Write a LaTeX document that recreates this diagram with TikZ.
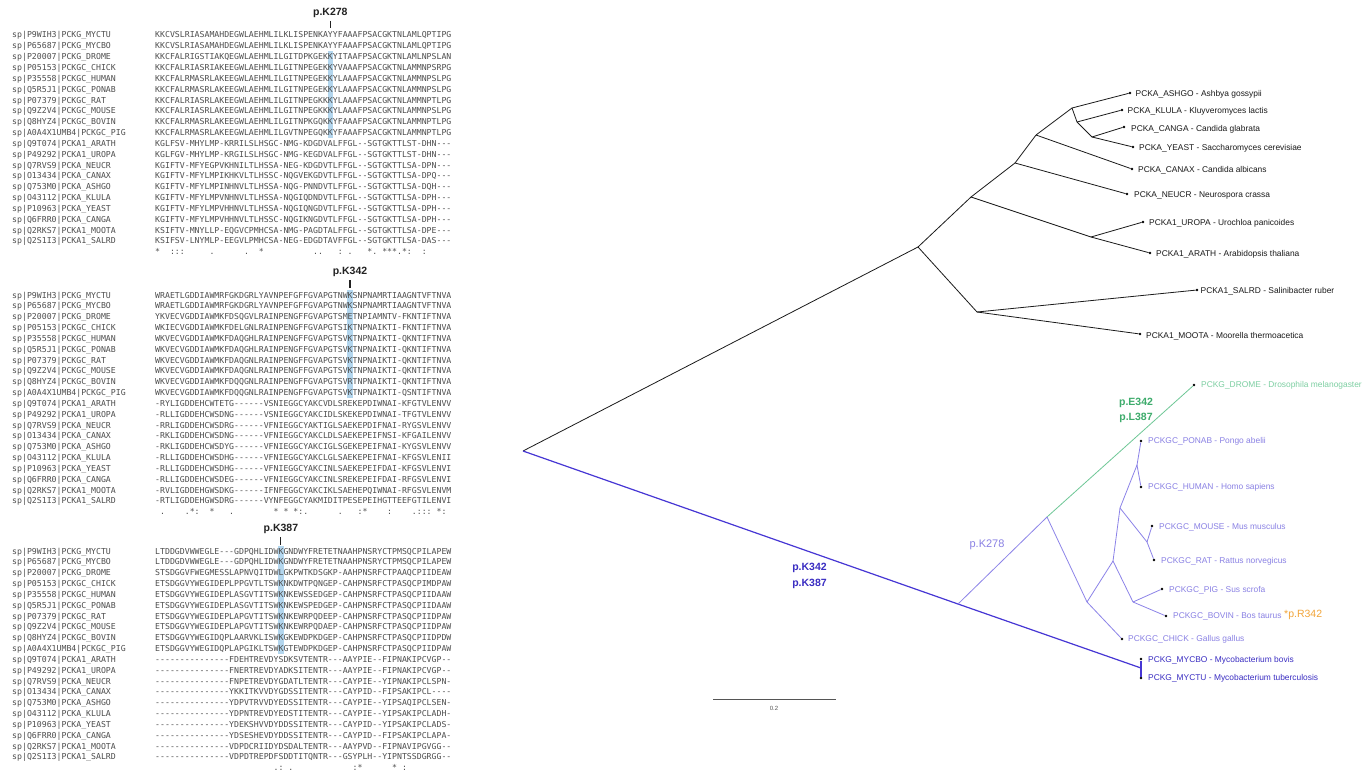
\documentclass[tikz,border=0pt]{standalone}
\usepackage{fontspec}
\setmainfont{Liberation Sans}
\setmonofont{DejaVu Sans Mono}
\definecolor{seqgray}{HTML}{4E4E4E}
\definecolor{hlblue}{HTML}{B3D6EE}
\definecolor{lblgray}{HTML}{222222}
\definecolor{treeblack}{HTML}{1A1A1A}
\definecolor{mycline}{HTML}{4636D4}
\definecolor{myctext}{HTML}{3A2DC2}
\definecolor{vertline}{HTML}{8C83E8}
\definecolor{verttext}{HTML}{8A81E4}
\definecolor{dromline}{HTML}{6EC796}
\definecolor{dromtext}{HTML}{7DCFA2}
\definecolor{dromlbl}{HTML}{3EAC6C}
\definecolor{orangelbl}{HTML}{F2A53A}
\definecolor{scalegray}{HTML}{555555}
\tikzset{
  seqtxt/.style={anchor=base west, inner sep=0pt, font=\ttfamily\fontsize{8.2}{9}\selectfont, text=seqgray},
  hlbox/.style={fill=hlblue},
  mutlbl/.style={inner sep=0pt, font=\bfseries\fontsize{10.5}{12}\selectfont, text=lblgray},
  tickline/.style={draw=lblgray, line width=1.1pt},
  tipdot/.style={circle, fill=black, inner sep=0pt, minimum size=2.6pt},
  tiplbl/.style={anchor=west, inner sep=0pt, font=\fontsize{8.4}{10}\selectfont},
  blackedge/.style={draw=treeblack, line width=0.8pt},
  mycedge/.style={draw=mycline, line width=1.2pt},
  vertedge/.style={draw=vertline, line width=0.8pt},
  dromedge/.style={draw=dromline, line width=0.8pt},
}
\begin{document}
\begin{tikzpicture}[x=1pt,y=-1pt]
\useasboundingbox[fill=white] (0,0) rectangle (1372,773);

% ---------------- alignment highlights ----------------
\fill[hlbox] (327.6,51.3) rectangle (333.0,138.1);
\fill[hlbox] (347.4,289.6) rectangle (352.7,398.0);
\fill[hlbox] (278.2,545.6) rectangle (283.5,654.0);

% ---------------- mutation labels above alignment ----------------
\node[mutlbl] (lk278) at (330.3,13) {p.K278};
\coordinate (tk278a) at (330.3,21);
\coordinate (tk278b) at (330.3,28.5);
\draw[tickline] (tk278a) -- (tk278b);
\node[mutlbl] (lk342) at (350.0,272) {p.K342};
\coordinate (tk342a) at (350.0,280);
\coordinate (tk342b) at (350.0,287.5);
\draw[tickline] (tk342a) -- (tk342b);
\node[mutlbl] (lk387) at (280.9,529) {p.K387};
\coordinate (tk387a) at (280.9,537);
\coordinate (tk387b) at (280.9,544.5);
\draw[tickline] (tk387a) -- (tk387b);

% ---------------- sequence identifiers ----------------
\foreach \b/\y in {1/35,2/295,3/551}{
  \foreach \i/\id in {1/sp|P9WIH3|PCKG\_MYCTU, 2/sp|P65687|PCKG\_MYCBO, 3/sp|P20007|PCKG\_DROME,
    4/sp|P05153|PCKGC\_CHICK, 5/sp|P35558|PCKGC\_HUMAN, 6/sp|Q5R5J1|PCKGC\_PONAB,
    7/sp|P07379|PCKGC\_RAT, 8/sp|Q9Z2V4|PCKGC\_MOUSE, 9/sp|Q8HYZ4|PCKGC\_BOVIN,
    10/sp|A0A4X1UMB4|PCKGC\_PIG, 11/sp|Q9T074|PCKA1\_ARATH, 12/sp|P49292|PCKA1\_UROPA,
    13/sp|Q7RVS9|PCKA\_NEUCR, 14/sp|O13434|PCKA\_CANAX, 15/sp|Q753M0|PCKA\_ASHGO,
    16/sp|O43112|PCKA\_KLULA, 17/sp|P10963|PCKA\_YEAST, 18/sp|Q6FRR0|PCKA\_CANGA,
    19/sp|Q2RKS7|PCKA1\_MOOTA, 20/sp|Q2S1I3|PCKA1\_SALRD}{
    \node[seqtxt] (id\b-\i) at (12,{\y+(\i-1)*10.84+3}) {\id};
  }
}

% ---------------- block 1 ----------------
\foreach \i/\s in {1/KKCVSLRIASAMAHDEGWLAEHMLILKLISPENKAYYFAAAFPSACGKTNLAMLQPTIPG,
  2/KKCVSLRIASAMAHDEGWLAEHMLILKLISPENKAYYFAAAFPSACGKTNLAMLQPTIPG,
  3/KKCFALRIGSTIAKQEGWLAEHMLILGITDPKGEKKYITAAFPSACGKTNLAMLNPSLAN,
  4/KKCFALRIASRIAKEEGWLAEHMLILGITNPEGEKKYVAAAFPSACGKTNLAMMNPSRPG,
  5/KKCFALRMASRLAKEEGWLAEHMLILGITNPEGEKKYLAAAFPSACGKTNLAMMNPSLPG,
  6/KKCFALRMASRLAKEEGWLAEHMLILGITNPEGEKKYLAAAFPSACGKTNLAMMNPSLPG,
  7/KKCFALRIASRLAKEEGWLAEHMLILGITNPEGKKKYLAAAFPSACGKTNLAMMNPTLPG,
  8/KKCFALRIASRLAKEEGWLAEHMLILGITNPEGKKKYLAAAFPSACGKTNLAMMNPSLPG,
  9/KKCFALRMASRLAKEEGWLAEHMLILGITNPKGQKKYFAAAFPSACGKTNLAMMNPTLPG,
  10/KKCFALRMASRLAKEEGWLAEHMLILGVTNPEGQKKYFAAAFPSACGKTNLAMMNPTLPG,
  11/KGLFSV-MHYLMP-KRRILSLHSGC-NMG-KDGDVALFFGL--SGTGKTTLST-DHN---,
  12/KGLFGV-MHYLMP-KRGILSLHSGC-NMG-KEGDVALFFGL--SGTGKTTLST-DHN---,
  13/KGIFTV-MFYEGPVKHNILTLHSSA-NEG-KDGDVTLFFGL--SGTGKTTLSA-DPN---,
  14/KGIFTV-MFYLMPIKHKVLTLHSSC-NQGVEKGDVTLFFGL--SGTGKTTLSA-DPQ---,
  15/KGIFTV-MFYLMPINHNVLTLHSSA-NQG-PNNDVTLFFGL--SGTGKTTLSA-DQH---,
  16/KGIFTV-MFYLMPVNHNVLTLHSSA-NQGIQDNDVTLFFGL--SGTGKTTLSA-DPH---,
  17/KGIFTV-MFYLMPVHHNVLTLHSSA-NQGIQNGDVTLFFGL--SGTGKTTLSA-DPH---,
  18/KGIFTV-MFYLMPVHHNVLTLHSSC-NQGIKNGDVTLFFGL--SGTGKTTLSA-DPH---,
  19/KSIFTV-MNYLLP-EQGVCPMHCSA-NMG-PAGDTALFFGL--SGTGKTTLSA-DPE---,
  20/KSIFSV-LNYMLP-EEGVLPMHCSA-NEG-EDGDTAVFFGL--SGTGKTTLSA-DAS---}{
  \node[seqtxt] (s1-\i) at (155,{35+(\i-1)*10.84+3}) {\s};
}
\node[seqtxt] (cons1) at (155,254.8) {*~~:::~~~~~.~~~~~~.~~*~~~~~~~~~~..~~~:~.~~~*.~***.*:~~:};

% ---------------- block 2 ----------------
\foreach \i/\s in {1/WRAETLGDDIAWMRFGKDGRLYAVNPEFGFFGVAPGTNWKSNPNAMRTIAAGNTVFTNVA,
  2/WRAETLGDDIAWMRFGKDGRLYAVNPEFGFFGVAPGTNWKSNPNAMRTIAAGNTVFTNVA,
  3/YKVECVGDDIAWMKFDSQGVLRAINPENGFFGVAPGTSMETNPIAMNTV-FKNTIFTNVA,
  4/WKIECVGDDIAWMKFDELGNLRAINPENGFFGVAPGTSIKTNPNAIKTI-FKNTIFTNVA,
  5/WKVECVGDDIAWMKFDAQGHLRAINPENGFFGVAPGTSVKTNPNAIKTI-QKNTIFTNVA,
  6/WKVECVGDDIAWMKFDAQGHLRAINPENGFFGVAPGTSVKTNPNAIKTI-QKNTIFTNVA,
  7/WKVECVGDDIAWMKFDAQGNLRAINPENGFFGVAPGTSVKTNPNAIKTI-QKNTIFTNVA,
  8/WKVECVGDDIAWMKFDAQGNLRAINPENGFFGVAPGTSVKTNPNAIKTI-QKNTIFTNVA,
  9/WKVECVGDDIAWMKFDQQGNLRAINPENGFFGVAPGTSVRTNPNAIKTI-QKNTIFTNVA,
  10/WKVECVGDDIAWMKFDQQGNLRAINPENGFFGVAPGTSVKTNPNAIKTI-QSNTIFTNVA,
  11/-RYLIGDDEHCWTETG------VSNIEGGCYAKCVDLSREKEPDIWNAI-KFGTVLENVV,
  12/-RLLIGDDEHCWSDNG------VSNIEGGCYAKCIDLSKEKEPDIWNAI-TFGTVLENVV,
  13/-RRLIGDDEHCWSDRG------VFNIEGGCYAKTIGLSAEKEPDIFNAI-RYGSVLENVV,
  14/-RKLIGDDEHCWSDNG------VFNIEGGCYAKCLDLSAEKEPEIFNSI-KFGAILENVV,
  15/-RKLIGDDEHCWSDYG------VFNIEGGCYAKCIGLSGEKEPEIFNAI-KYGSVLENVV,
  16/-RLLIGDDEHCWSDHG------VFNIEGGCYAKCLGLSAEKEPEIFNAI-KFGSVLENII,
  17/-RLLIGDDEHCWSDHG------VFNIEGGCYAKCINLSAEKEPEIFDAI-KFGSVLENVI,
  18/-RLLIGDDEHCWSDEG------VFNIEGGCYAKCINLSREKEPEIFDAI-RFGSVLENVI,
  19/-RVLIGDDEHGWSDKG------IFNFEGGCYAKCIKLSAEHEPQIWNAI-RFGSVLENVM,
  20/-RTLIGDDEHGWSDRG------VYNFEGGCYAKMIDITPESEPEIHGTTEEFGTILENVI}{
  \node[seqtxt] (s2-\i) at (155,{295+(\i-1)*10.84+3}) {\s};
}
\node[seqtxt] (cons2) at (155,514.8) {~.~~~~.*:~~*~~~.~~~~~~~~*~*~*:.~~~~~~.~~~:*~~~~:~~~~.:::~*:};

% ---------------- block 3 ----------------
\foreach \i/\s in {1/LTDDGDVWWEGLE---GDPQHLIDWKGNDWYFRETETNAAHPNSRYCTPMSQCPILAPEW,
  2/LTDDGDVWWEGLE---GDPQHLIDWKGNDWYFRETETNAAHPNSRYCTPMSQCPILAPEW,
  3/STSDGGVFWEGMESSLAPNVQITDWLGKPWTKDSGKP-AAHPNSRFCTPAAQCPIIDEAW,
  4/ETSDGGVYWEGIDEPLPPGVTLTSWKNKDWTPQNGEP-CAHPNSRFCTPASQCPIMDPAW,
  5/ETSDGGVYWEGIDEPLASGVTITSWKNKEWSSEDGEP-CAHPNSRFCTPASQCPIIDAAW,
  6/ETSDGGVYWEGIDEPLASGVTITSWKNKEWSPEDGEP-CAHPNSRFCTPASQCPIIDAAW,
  7/ETSDGGVYWEGIDEPLAPGVTITSWKNKEWRPQDEEP-CAHPNSRFCTPASQCPIIDPAW,
  8/ETSDGGVYWEGIDEPLAPGVTITSWKNKEWRPQDAEP-CAHPNSRFCTPASQCPIIDPAW,
  9/ETSDGGVYWEGIDQPLAARVKLISWKGKEWDPKDGEP-CAHPNSRFCTPASQCPIIDPDW,
  10/ETSDGGVYWEGIDQPLAPGIKLTSWKGTEWDPKDGEP-CAHPNSRFCTPASQCPIIDPAW,
  11/---------------FDEHTREVDYSDKSVTENTR---AAYPIE--FIPNAKIPCVGP--,
  12/---------------FNERTREVDYADKSITENTR---AAYPIE--FIPNAKIPCVGP--,
  13/---------------FNPETREVDYGDATLTENTR---CAYPIE--YIPNAKIPCLSPN-,
  14/---------------YKKITKVVDYGDSSITENTR---CAYPID--FIPSAKIPCL----,
  15/---------------YDPVTRVVDYEDSSITENTR---CAYPIE--YIPSAQIPCLSEN-,
  16/---------------YDPNTREVDYEDSTITENTR---CAYPIE--YIPSAKIPCLADH-,
  17/---------------YDEKSHVVDYDDSSITENTR---CAYPID--YIPSAKIPCLADS-,
  18/---------------YDSESHEVDYDDSSITENTR---CAYPID--FIPSAKIPCLAPA-,
  19/---------------VDPDCRIIDYDSDALTENTR---AAYPVD--FIPNAVIPGVGG--,
  20/---------------VDPDTREPDFSDDTITQNTR---GSYPLH--YIPNTSSDGRGG--}{
  \node[seqtxt] (s3-\i) at (155,{551+(\i-1)*10.84+3}) {\s};
}
\node[seqtxt] (cons3) at (155,770.3) {~~~~~~~~~~~~~~~~~~~~~~~~.:~.~~~~~~~~~~~~:*~~~~~~*~:};

% ---------------- tree: internal nodes ----------------
\coordinate (nO) at (523,451);
\coordinate (nA) at (918,247);
\coordinate (nB) at (971,197);
\coordinate (nC) at (1015,163);
\coordinate (nD) at (1036,135);
\coordinate (nE) at (1072,108);
\coordinate (nF) at (1077,122);
\coordinate (nG) at (1092,137);
\coordinate (nU) at (1091,237);
\coordinate (nS) at (977,312);
\coordinate (nK) at (958,604);
\coordinate (nY) at (1141,668);
\coordinate (nH) at (1047,517);
\coordinate (nM) at (1087,602);
\coordinate (nN) at (1113,561);
\coordinate (nP) at (1120,508);
\coordinate (nQ) at (1133,602);
\coordinate (nR) at (1137,465);
\coordinate (nT) at (1147,542);

% ---------------- tree: tips ----------------
\node[tipdot] (tASHGO) at (1130,93) {};
\node[tipdot] (tKLULA) at (1122,110) {};
\node[tipdot] (tCANGA) at (1124,127) {};
\node[tipdot] (tYEAST) at (1133,147) {};
\node[tipdot] (tCANAX) at (1132,169) {};
\node[tipdot] (tNEUCR) at (1127,194) {};
\node[tipdot] (tUROPA) at (1143,222) {};
\node[tipdot] (tARATH) at (1150,253) {};
\node[tipdot] (tSALRD) at (1197,290) {};
\node[tipdot] (tMOOTA) at (1140,334) {};
\node[tipdot] (tDROME) at (1194,385) {};
\node[tipdot] (tPONAB) at (1141,441) {};
\node[tipdot] (tHUMAN) at (1141,487) {};
\node[tipdot] (tMOUSE) at (1152,526) {};
\node[tipdot] (tRAT) at (1154,560) {};
\node[tipdot] (tPIG) at (1162,589) {};
\node[tipdot] (tBOVIN) at (1166,616) {};
\node[tipdot] (tCHICK) at (1122,639) {};
\node[tipdot] (tMYCBO) at (1141,659) {};
\node[tipdot] (tMYCTU) at (1141,678) {};

% ---------------- tree: edges ----------------
\draw[blackedge] (nO) -- (nA);
\draw[blackedge] (nA) -- (nB);
\draw[blackedge] (nA) -- (nS);
\draw[blackedge] (nB) -- (nC);
\draw[blackedge] (nB) -- (nU);
\draw[blackedge] (nC) -- (nD);
\draw[blackedge] (nC) -- (tNEUCR);
\draw[blackedge] (nD) -- (nE);
\draw[blackedge] (nD) -- (tCANAX);
\draw[blackedge] (nE) -- (tASHGO);
\draw[blackedge] (nE) -- (nF);
\draw[blackedge] (nF) -- (tKLULA);
\draw[blackedge] (nF) -- (nG);
\draw[blackedge] (nG) -- (tCANGA);
\draw[blackedge] (nG) -- (tYEAST);
\draw[blackedge] (nU) -- (tUROPA);
\draw[blackedge] (nU) -- (tARATH);
\draw[blackedge] (nS) -- (tSALRD);
\draw[blackedge] (nS) -- (tMOOTA);
\draw[mycedge] (nO) -- (nK);
\draw[mycedge] (nK) -- (nY);
\draw[mycedge] (nY) -- (tMYCBO);
\draw[mycedge] (nY) -- (tMYCTU);
\draw[vertedge] (nK) -- (nH);
\draw[dromedge] (nH) -- (tDROME);
\draw[vertedge] (nH) -- (nM);
\draw[vertedge] (nM) -- (tCHICK);
\draw[vertedge] (nM) -- (nN);
\draw[vertedge] (nN) -- (nP);
\draw[vertedge] (nN) -- (nQ);
\draw[vertedge] (nQ) -- (tPIG);
\draw[vertedge] (nQ) -- (tBOVIN);
\draw[vertedge] (nP) -- (nR);
\draw[vertedge] (nR) -- (tPONAB);
\draw[vertedge] (nR) -- (tHUMAN);
\draw[vertedge] (nP) -- (nT);
\draw[vertedge] (nT) -- (tMOUSE);
\draw[vertedge] (nT) -- (tRAT);

% ---------------- tree: tip labels ----------------
\node[tiplbl, text=treeblack] (lASHGO) at (1135.5,94) {PCKA\_ASHGO - Ashbya gossypii};
\node[tiplbl, text=treeblack] (lKLULA) at (1127.5,111) {PCKA\_KLULA - Kluyveromyces lactis};
\node[tiplbl, text=treeblack] (lCANGA) at (1131,129) {PCKA\_CANGA - Candida glabrata};
\node[tiplbl, text=treeblack] (lYEAST) at (1139,148) {PCKA\_YEAST - Saccharomyces cerevisiae};
\node[tiplbl, text=treeblack] (lCANAX) at (1138,170) {PCKA\_CANAX - Candida albicans};
\node[tiplbl, text=treeblack] (lNEUCR) at (1134,195) {PCKA\_NEUCR - Neurospora crassa};
\node[tiplbl, text=treeblack] (lUROPA) at (1149,223) {PCKA1\_UROPA - Urochloa panicoides};
\node[tiplbl, text=treeblack] (lARATH) at (1156,254) {PCKA1\_ARATH - Arabidopsis thaliana};
\node[tiplbl, text=treeblack] (lSALRD) at (1200.5,291) {PCKA1\_SALRD - Salinibacter ruber};
\node[tiplbl, text=treeblack] (lMOOTA) at (1146,336) {PCKA1\_MOOTA - Moorella thermoacetica};
\node[tiplbl, text=dromtext] (lDROME) at (1201,385) {PCKG\_DROME - Drosophila melanogaster};
\node[tiplbl, text=verttext] (lPONAB) at (1148,441) {PCKGC\_PONAB - Pongo abelii};
\node[tiplbl, text=verttext] (lHUMAN) at (1148,487) {PCKGC\_HUMAN - Homo sapiens};
\node[tiplbl, text=verttext] (lMOUSE) at (1159,527) {PCKGC\_MOUSE - Mus musculus};
\node[tiplbl, text=verttext] (lRAT) at (1161,561) {PCKGC\_RAT - Rattus norvegicus};
\node[tiplbl, text=verttext] (lPIG) at (1169,590) {PCKGC\_PIG - Sus scrofa};
\node[tiplbl, text=verttext] (lBOVIN) at (1173,616) {PCKGC\_BOVIN - Bos taurus};
\node[tiplbl, text=verttext] (lCHICK) at (1128,639) {PCKGC\_CHICK - Gallus gallus};
\node[tiplbl, text=myctext] (lMYCBO) at (1148,660) {PCKG\_MYCBO - Mycobacterium bovis};
\node[tiplbl, text=myctext] (lMYCTU) at (1148,678) {PCKG\_MYCTU - Mycobacterium tuberculosis};

% ---------------- tree: mutation labels ----------------
\node[inner sep=0pt, anchor=west, font=\fontsize{10.5}{12}\selectfont, text=orangelbl] (lR342) at (1284,615) {*p.R342};
\node[mutlbl, text=dromlbl] (lE342) at (1136,403) {p.E342};
\node[mutlbl, text=dromlbl] (lL387) at (1136,418) {p.L387};
\node[inner sep=0pt, font=\fontsize{11}{12}\selectfont, text=verttext] (lK278t) at (987,545) {p.K278};
\node[mutlbl, text=myctext] (lK342t) at (809.5,568) {p.K342};
\node[mutlbl, text=myctext] (lK387t) at (809.5,584) {p.K387};

% ---------------- scale bar ----------------
\coordinate (sbL) at (713,699);
\coordinate (sbR) at (836,699);
\draw[draw=scalegray, line width=0.8pt] (sbL) -- (sbR);
\node[inner sep=0pt, font=\fontsize{6}{7}\selectfont, text=scalegray] (sblbl) at (774,708) {0.2};

\end{tikzpicture}
\end{document}
